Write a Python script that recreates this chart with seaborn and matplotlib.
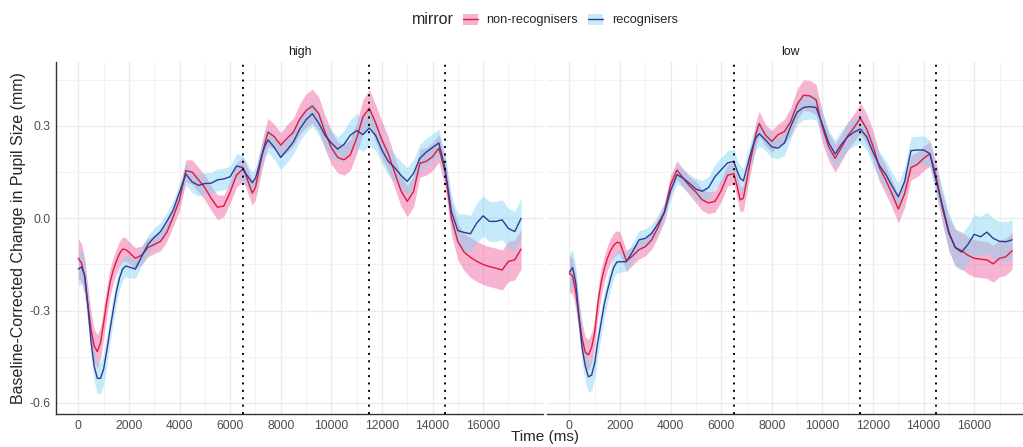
import numpy as np
import pandas as pd
import matplotlib
matplotlib.use("Agg")
import matplotlib.pyplot as plt
from matplotlib.patches import Patch
from matplotlib.lines import Line2D
from matplotlib.ticker import MultipleLocator
import seaborn as sns

# ---------------- data ----------------
time_ms = (list(range(0, 2001, 125)) + list(range(2250, 6501, 250))
           + list(range(6625, 7376, 125)) + list(range(7500, 17501, 250)))

high_non = [-0.13, -0.145, -0.19, -0.28, -0.36, -0.415, -0.433, -0.405, -0.34,
            -0.27, -0.21, -0.17, -0.14, -0.115, -0.10, -0.102, -0.11,
            -0.13, -0.12, -0.095, -0.085, -0.075, -0.045, 0.005, 0.06, 0.155,
            0.15, 0.125, 0.10, 0.065, 0.036, 0.04, 0.085, 0.14, 0.16,
            0.14, 0.11, 0.082, 0.10, 0.15, 0.20, 0.245,
            0.28, 0.265, 0.238,
            0.26, 0.28, 0.322, 0.35, 0.365, 0.34, 0.28, 0.23,
            0.198, 0.19, 0.206, 0.26, 0.33, 0.358, 0.31, 0.255,
            0.21, 0.15, 0.09, 0.055, 0.087, 0.179, 0.185, 0.20,
            0.228, 0.15, 0.0, -0.075, -0.11, -0.127, -0.14, -0.15,
            -0.157, -0.162, -0.168, -0.14, -0.135, -0.10]
high_rec = [-0.165, -0.158, -0.185, -0.28, -0.40, -0.48, -0.52, -0.52, -0.49,
            -0.43, -0.363, -0.30, -0.24, -0.195, -0.165, -0.155, -0.158,
            -0.165, -0.125, -0.085, -0.062, -0.043, -0.01, 0.027, 0.085, 0.144,
            0.118, 0.107, 0.113, 0.114, 0.125, 0.128, 0.135, 0.17, 0.165,
            0.145, 0.13, 0.116, 0.13, 0.165, 0.205, 0.235,
            0.255, 0.23, 0.198,
            0.222, 0.248, 0.29, 0.32, 0.34, 0.31, 0.27, 0.245,
            0.225, 0.24, 0.27, 0.285, 0.272, 0.293, 0.27, 0.222,
            0.185, 0.165, 0.14, 0.12, 0.146, 0.195, 0.215, 0.23,
            0.245, 0.16, 0.02, -0.04, -0.046, -0.05, -0.015, 0.008,
            -0.01, -0.01, -0.005, -0.033, -0.043, 0.0]
low_non = [-0.179, -0.188, -0.24, -0.32, -0.39, -0.435, -0.444, -0.42, -0.37,
           -0.275, -0.21, -0.165, -0.13, -0.105, -0.088, -0.078, -0.08,
           -0.138, -0.122, -0.102, -0.092, -0.07, -0.03, 0.02, 0.11, 0.157,
           0.13, 0.105, 0.085, 0.06, 0.05, 0.055, 0.09, 0.14, 0.145,
           0.105, 0.06, 0.065, 0.12, 0.175, 0.225, 0.275,
           0.308, 0.27, 0.25,
           0.272, 0.282, 0.315, 0.37, 0.40, 0.398, 0.385, 0.295,
           0.232, 0.195, 0.23, 0.268, 0.295, 0.325, 0.29, 0.235,
           0.165, 0.125, 0.08, 0.03, 0.08, 0.165, 0.175, 0.195,
           0.21, 0.135, 0.03, -0.05, -0.095, -0.105, -0.12, -0.13,
           -0.133, -0.135, -0.148, -0.13, -0.125, -0.105]
low_rec = [-0.175, -0.16, -0.21, -0.32, -0.42, -0.48, -0.515, -0.51, -0.47,
           -0.40, -0.34, -0.28, -0.235, -0.195, -0.16, -0.142, -0.141,
           -0.141, -0.108, -0.07, -0.065, -0.049, -0.018, 0.018, 0.09, 0.142,
           0.13, 0.113, 0.095, 0.088, 0.10, 0.135, 0.158, 0.18, 0.185,
           0.155, 0.13, 0.122, 0.16, 0.20, 0.235, 0.262,
           0.275, 0.255, 0.232,
           0.228, 0.245, 0.30, 0.345, 0.36, 0.363, 0.36, 0.305,
           0.245, 0.209, 0.24, 0.265, 0.28, 0.29, 0.265, 0.215,
           0.172, 0.143, 0.105, 0.07, 0.12, 0.22, 0.222, 0.222,
           0.21, 0.12, 0.04, -0.045, -0.095, -0.11, -0.085, -0.052,
           -0.06, -0.045, -0.065, -0.075, -0.076, -0.07]

# ribbon half-widths (mm)
high_non_se = [0.065, 0.062, 0.06, 0.058, 0.055, 0.055, 0.055, 0.052, 0.05,
               0.048, 0.045, 0.042, 0.04, 0.04, 0.04, 0.038, 0.035,
               0.035, 0.03, 0.03, 0.03, 0.03, 0.03, 0.03, 0.035, 0.035,
               0.04, 0.04, 0.04, 0.04, 0.04, 0.035, 0.035, 0.04, 0.04,
               0.04, 0.04, 0.04, 0.04, 0.045, 0.045, 0.045,
               0.045, 0.04, 0.04,
               0.045, 0.045, 0.05, 0.055, 0.055, 0.055, 0.055, 0.055,
               0.05, 0.05, 0.05, 0.05, 0.055, 0.06, 0.06, 0.06,
               0.055, 0.05, 0.05, 0.05, 0.05, 0.045, 0.045, 0.045,
               0.045, 0.05, 0.055, 0.06, 0.06, 0.065, 0.065, 0.065,
               0.065, 0.065, 0.065, 0.065, 0.065, 0.065]
high_rec_se = [0.055, 0.055, 0.05, 0.05, 0.05, 0.05, 0.05, 0.05, 0.05,
               0.048, 0.045, 0.042, 0.04, 0.038, 0.035, 0.035, 0.035,
               0.03, 0.03, 0.03, 0.03, 0.03, 0.03, 0.03, 0.03, 0.035,
               0.035, 0.035, 0.035, 0.035, 0.035, 0.035, 0.035, 0.04, 0.04,
               0.04, 0.035, 0.035, 0.035, 0.04, 0.04, 0.04,
               0.04, 0.04, 0.04,
               0.04, 0.04, 0.04, 0.04, 0.04, 0.04, 0.04, 0.04,
               0.04, 0.045, 0.05, 0.055, 0.055, 0.055, 0.05, 0.045,
               0.045, 0.045, 0.045, 0.045, 0.045, 0.045, 0.045, 0.045,
               0.045, 0.045, 0.05, 0.055, 0.06, 0.06, 0.065, 0.065,
               0.065, 0.065, 0.065, 0.065, 0.065, 0.065]
low_non_se = [0.06, 0.058, 0.055, 0.052, 0.05, 0.05, 0.05, 0.048, 0.045,
              0.045, 0.045, 0.042, 0.04, 0.04, 0.04, 0.038, 0.035,
              0.035, 0.03, 0.03, 0.03, 0.03, 0.03, 0.03, 0.03, 0.03,
              0.03, 0.03, 0.035, 0.035, 0.035, 0.035, 0.035, 0.035, 0.035,
              0.04, 0.04, 0.04, 0.04, 0.04, 0.04, 0.04,
              0.04, 0.035, 0.035,
              0.035, 0.04, 0.045, 0.05, 0.05, 0.05, 0.05, 0.05,
              0.045, 0.045, 0.045, 0.045, 0.045, 0.05, 0.05, 0.05,
              0.045, 0.045, 0.045, 0.045, 0.045, 0.04, 0.04, 0.04,
              0.04, 0.045, 0.05, 0.055, 0.06, 0.06, 0.06, 0.06,
              0.06, 0.06, 0.06, 0.06, 0.06, 0.06]
low_rec_se = [0.06, 0.058, 0.055, 0.052, 0.05, 0.05, 0.05, 0.05, 0.05,
              0.048, 0.045, 0.042, 0.04, 0.038, 0.035, 0.035, 0.035,
              0.03, 0.03, 0.03, 0.03, 0.03, 0.03, 0.03, 0.03, 0.03,
              0.03, 0.03, 0.035, 0.035, 0.035, 0.04, 0.04, 0.04, 0.04,
              0.04, 0.04, 0.04, 0.04, 0.04, 0.04, 0.04,
              0.04, 0.035, 0.035,
              0.035, 0.04, 0.04, 0.04, 0.04, 0.04, 0.04, 0.04,
              0.04, 0.045, 0.045, 0.045, 0.045, 0.045, 0.045, 0.045,
              0.045, 0.045, 0.045, 0.045, 0.045, 0.045, 0.045, 0.045,
              0.045, 0.05, 0.055, 0.06, 0.06, 0.06, 0.06, 0.065,
              0.065, 0.065, 0.065, 0.065, 0.065, 0.065]

event_times = [6500, 11500, 14500]
panels = ["high", "low"]
groups = ["non-recognisers", "recognisers"]
x_ticks = [0, 2000, 4000, 6000, 8000, 10000, 12000, 14000, 16000]
y_ticks = [-0.6, -0.3, 0.0, 0.3]

# ---------------- long table ----------------
series = {
    ("high", "non-recognisers"): (high_non, high_non_se),
    ("high", "recognisers"): (high_rec, high_rec_se),
    ("low", "non-recognisers"): (low_non, low_non_se),
    ("low", "recognisers"): (low_rec, low_rec_se),
}
rows = []
for (cond, grp), (vals, se) in series.items():
    n = min(len(time_ms), len(vals), len(se))
    for t, v, s in zip(time_ms[:n], vals[:n], se[:n]):
        rows.append(dict(condition=cond, mirror=grp, time=t, pupil=v,
                         lo=v - s, hi=v + s))
df = pd.DataFrame(rows)

# ---------------- style ----------------
sns.set_theme(style="white")
plt.rcParams["font.family"] = ["Liberation Sans", "DejaVu Sans"]

line_colors = {"non-recognisers": "#E3183C", "recognisers": "#2E3C93"}
fill_colors = {"non-recognisers": "#EE6AA7", "recognisers": "#7FD4F5"}
fill_alpha = {"non-recognisers": 0.5, "recognisers": 0.45}

W, H = 1023, 447
fig = plt.figure(figsize=(W / 100, H / 100), dpi=100)

ax_top = 62
ax_bot = 414
lefts = [56.2, 547.3]
width_px = 487.0
for i, cond in enumerate(panels):
    ax = fig.add_axes([lefts[i] / W, 1 - ax_bot / H, width_px / W, (ax_bot - ax_top) / H])
    sub = df[df.condition == cond]
    for grp in groups:
        g = sub[sub.mirror == grp]
        ax.fill_between(g.time, g.lo, g.hi, color=fill_colors[grp],
                        alpha=fill_alpha[grp], linewidth=0, zorder=2)
    sns.lineplot(data=sub, x="time", y="pupil", hue="mirror", hue_order=groups,
                 palette=line_colors, linewidth=1.0, legend=False, ax=ax,
                 zorder=3, errorbar=None)
    for t in event_times:
        ax.axvline(t, color="black", linewidth=1.4, linestyle=(0, (1, 2.8)), zorder=4)

    ax.set_xlim(-875, 18375)
    ax.set_ylim(-0.636, 0.508)
    ax.set_xticks(x_ticks)
    ax.set_yticks(y_ticks)
    ax.xaxis.set_minor_locator(MultipleLocator(1000))
    ax.yaxis.set_minor_locator(MultipleLocator(0.15))
    ax.grid(which="major", color="#EBEBEB", linewidth=1.0, zorder=0)
    ax.grid(which="minor", color="#F2F2F2", linewidth=0.7, zorder=0)
    ax.set_axisbelow(True)
    ax.tick_params(axis="both", which="both", length=0, labelsize=8.8,
                   labelcolor="#4D4D4D", pad=4)
    ax.set_xticklabels([str(v) for v in x_ticks])
    ax.set_xlabel("")
    ax.set_ylabel("")
    for s in ["top", "right"]:
        ax.spines[s].set_visible(False)
    ax.spines["bottom"].set_color("#333333")
    ax.spines["bottom"].set_linewidth(1.0)
    if i == 0:
        ax.spines["left"].set_color("#333333")
        ax.spines["left"].set_linewidth(1.0)
        ax.set_yticklabels([f"{v:.1f}" for v in y_ticks])
    else:
        ax.spines["left"].set_visible(False)
        ax.tick_params(axis="y", labelleft=False)
    ax.set_title(cond, fontsize=8.8, color="#1A1A1A", pad=5)

fig.text(545 / W, 1 - 437 / H, "Time (ms)", ha="center", va="center", fontsize=11)
fig.text(19 / W, 1 - 238 / H, "Baseline-Corrected Change in Pupil Size (mm)",
         ha="center", va="center", rotation=90, fontsize=11.5)

# legend
fig.text(433 / W, 1 - 20 / H, "mirror", ha="center", va="center", fontsize=11.5)
handles = []
for grp in groups:
    p = Patch(facecolor=fill_colors[grp], alpha=fill_alpha[grp], edgecolor="none")
    l = Line2D([], [], color=line_colors[grp], linewidth=1.0)
    handles.append((p, l))
fig.legend(handles, groups, loc="center left", bbox_to_anchor=(463 / W, 1 - 20 / H),
           ncol=2, frameon=False, fontsize=9.2, handlelength=1.15, handleheight=0.95,
           handletextpad=0.7, columnspacing=0.8, borderaxespad=0, borderpad=0)

fig.savefig("out.png", dpi=100)
